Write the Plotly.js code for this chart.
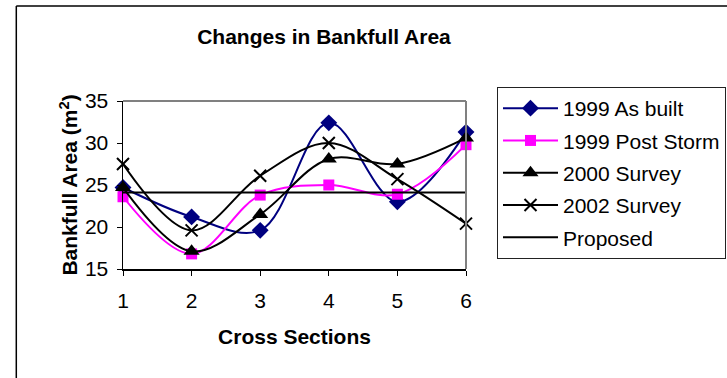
<!DOCTYPE html>
<html><head><meta charset="utf-8">
<script src="https://cdn.plot.ly/plotly-3.0.1.min.js"></script>
<style>body{margin:0;background:#fff;overflow:hidden}#chart{width:727px;height:378px}</style>
</head><body><div id="chart"></div>
<script>
const sections = [1, 2, 3, 4, 5, 6];
const asBuilt1999 = [24.7, 21.2, 19.6, 32.4, 23.0, 31.3];
const postStorm1999 = [23.6, 16.8, 23.8, 25.0, 23.9, 29.8];
const survey2000 = [24.7, 17.1, 21.5, 28.1, 27.5, 30.6];
const survey2002 = [27.5, 19.6, 26.1, 30.0, 25.7, 20.4];
const proposed = [24.1, 24.1, 24.1, 24.1, 24.1, 24.1];
const seriesNames = ['1999 As built', '1999 Post Storm', '2000 Survey', '2002 Survey', 'Proposed'];
const yTicks = [15, 20, 25, 30, 35];

const F = 'Arial, "Liberation Sans", sans-serif';
function tr(y, name, color, symbol, msize, mline, group) {
  const t = {
    x: sections, y: y, name: name, type: 'scatter',
    mode: symbol ? 'lines+markers' : 'lines',
    line: {color: color, width: 2, shape: symbol ? 'spline' : 'linear', smoothing: 1},
    cliponaxis: false, legendgroup: group
  };
  if (symbol) t.marker = {symbol: symbol, size: msize, color: color, line: mline || {width: 0}};
  return t;
}
const data = [
  tr(asBuilt1999, seriesNames[0], '#000080', 'diamond', 13, null, 'a'),
  tr(postStorm1999, seriesNames[1], '#FF00FF', 'square', 11, null, 'b'),
  tr(survey2000, seriesNames[2], '#000000', 'triangle-up', 14, null, 'c'),
  tr(survey2002, seriesNames[3], '#000000', 'x-thin-open', 12, {width: 2, color: '#000000'}, 'd'),
  tr(proposed, seriesNames[4], '#000000', null, 0, null, 'e')
];
const layout = {
  width: 727, height: 378,
  margin: {l: 122.7, r: 261.3, t: 101, b: 109, pad: 0, autoexpand: false},
  paper_bgcolor: '#ffffff', plot_bgcolor: '#ffffff',
  font: {family: F, size: 21, color: '#000'},
  title: {text: '<b>Changes in Bankfull Area</b>', font: {family: F, size: 21, color: '#000'},
          x: 324 / 727, xanchor: 'center', xref: 'container', y: 1 - 37 / 378, yanchor: 'middle', yref: 'container'},
  xaxis: {range: [1, 6], tickvals: sections, ticktext: sections.map(String), showgrid: false, zeroline: false,
          showline: true, linecolor: '#000', linewidth: 1.5, ticks: 'outside', ticklen: 5, tickcolor: '#000',
          ticklabelstandoff: 7,
          title: {text: '<b>Cross Sections</b>', font: {family: F, size: 21}, standoff: 18}},
  yaxis: {range: [15, 35], tickvals: yTicks, showgrid: false, zeroline: false,
          showline: true, linecolor: '#000', linewidth: 1.5, ticks: 'outside', ticklen: 5, tickcolor: '#000',
          ticklabelstandoff: 4,
          title: {text: '<b>Bankfull Area (m<sup>2</sup>)</b>', font: {family: F, size: 21}, standoff: 1}},
  legend: {xref: 'container', yref: 'container', x: 497 / 727, y: 1 - 87 / 378, xanchor: 'left', yanchor: 'top',
           bordercolor: '#222', borderwidth: 1, bgcolor: '#fff', font: {family: F, size: 21},
           tracegroupgap: 2, itemwidth: 55},
  showlegend: true,
  shapes: [
    {type: 'line', xref: 'paper', yref: 'paper', x0: 0, x1: 1, y0: 1, y1: 1, line: {color: '#808080', width: 2}},
    {type: 'line', xref: 'paper', yref: 'paper', x0: 1, x1: 1, y0: 0, y1: 1, line: {color: '#808080', width: 2}},
    {type: 'line', xref: 'paper', yref: 'paper', x0: (16 - 122.7) / 343, x1: (16 - 122.7) / 343, y0: -1, y1: (269 - 6) / 168,
     line: {color: '#000', width: 1.5}, layer: 'below'},
    {type: 'line', xref: 'paper', yref: 'paper', x0: (16 - 122.7) / 343, x1: 2, y0: (269 - 6) / 168, y1: (269 - 6) / 168,
     line: {color: '#000', width: 1.5}, layer: 'below'}
  ]
};
Plotly.newPlot('chart', data, layout, {displayModeBar: false, staticPlot: true});
</script></body></html>
